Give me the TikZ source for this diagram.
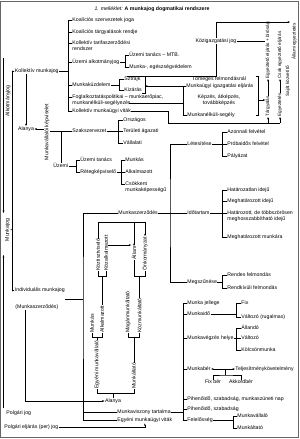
\documentclass[tikz,border=0pt]{standalone}
\usepackage{fontspec}
\setmainfont{Liberation Sans}
\usetikzlibrary{arrows.meta}
\newcommand{\twol}[2]{\begin{tabular}[t]{@{}l@{}}#1\\#2\end{tabular}}

\begin{document}
\begin{tikzpicture}[
  x=0.5mm, y=-0.5mm,
  >={Stealth[length=3.5pt,width=2.6pt]},
  font=\fontsize{7.4}{8.4}\selectfont,
  lb/.style={anchor=mid west, inner sep=0.5pt, align=left},
  vt/.style={rotate=90, anchor=west, inner sep=0.5pt},
  vs/.style={vt, font=\fontsize{6.6}{7}\selectfont},
  ln/.style={line width=0.6pt},
  arr/.style={->, line width=0.6pt},
]
  \useasboundingbox (0,0) rectangle (300,439);
  \draw[line width=0.8pt, black!60] (0.5,1) rectangle (298.5,437.5);

  % title
  \node (ttl) at (152,9) {\textit{1. melléklet:} \textbf{A munkajog dogmatikai rendszere}};

  % left column
  \node[lb] (kmj) at (14.5,71) {Kollektív munkajog};
  \node[vt, anchor=center] (akj) at (8,101) {Alkotmányjog};
  \node[vt, anchor=center] (mj) at (7.5,230) {Munkajog};
  \node[lb] (im) at (14.5,290) {Individuális munkajog};
  \node[lb] (msz0) at (15,307) {(Munkaszerződés)};
  \node[lb] (pj) at (6,413) {Polgári jog};
  \node[lb] (pe) at (4,427) {Polgári eljárás (per) jog};

  \coordinate (sp) at (12,229);
  \draw[arr] (sp) |- (kmj.west);
  \draw[arr] (sp) |- (im.west);
  \draw[ln] (mj.south) -- (sp);
  \coordinate (ak0) at (3.5,58);
  \coordinate (ak1) at (3.5,213);
  \draw[arr] (ak0) -- (ak1);
  \coordinate (pj0) at (3.5,408);
  \coordinate (pj1) at (3.5,255);
  \draw[arr] (pj0) -- (pj1);

  % kollektiv munkajog
  \coordinate (b1) at (68,0);
  \node[lb] (ks1) at (72,20) {Koalíciós szervezetek joga};
  \node[lb] (ks2) at (72,32) {Koalíciós tárgyalások rendje};
  \node[lb] (ks3) at (72,43) {\twol{Kollektív tarifaszerződési}{rendszer}};
  \node[lb] (ks4) at (72,62) {Üzemi alkotmányjog};
  \node[lb] (ks5) at (72,85) {Munkaküzdelem};
  \node[lb] (ks6) at (72,97) {\twol{Foglalkoztatáspolitikai – munkaerőpiac,}{munkanélküli-segélyezés}};
  \node[lb] (ks7) at (72,111) {Kollektív munkaügyi viták};
  \draw[ln] (ks1.mid west) -| (b1 |- ks7.mid west) -- (ks7.mid west);
  \foreach \n in {ks2,ks3,ks4,ks5,ks6}
    \draw[ln] (\n.mid west) -- (\n.mid west -| b1);
  \draw[ln] (kmj.east) -- (kmj.east -| b1);

  \coordinate (b2) at (125,0);
  \node[lb] (ua1) at (129,55) {Üzemi tanács – MTB.};
  \node[lb] (ua2) at (129,67) {Munka-, egészségvédelem};
  \draw[ln] (ua1.mid west) -| (b2 |- ua2.mid west) -- (ua2.mid west);
  \draw[ln] (ks4.mid east) -- (ks4.mid east -| b2);

  \coordinate (b3) at (119,0);
  \node[lb] (mk1) at (124,79) {Sztrájk};
  \node[lb] (mk2) at (124,90) {Kizárás};
  \draw[ln] (mk1.mid west) -| (b3 |- mk2.mid west) -- (mk2.mid west);
  \draw[ln] (ks5.mid east) -- (ks5.mid east -| b3);
  \coordinate (b3r) at (145,0);
  \coordinate (bk1) at (142,76);
  \coordinate (bk2) at (142,93);
  \draw[ln] (bk1) -| (b3r |- bk2) -- (bk2);

  % kozigazgatasi jog
  \node[inner sep=0.5pt] (kj) at (216,41) {Közigazgatási jog};
  \coordinate (c1) at (127,76);
  \draw[ln] (c1) -| (kj.south);
  \coordinate (c2) at (290,22);
  \draw[arr] (kj.north) |- (c2);

  \node[inner sep=0.5pt] (tf) at (219,79) {Tömeges felmondásnál};
  \node[lb] (mi) at (186,86) {Munkaügyi igazgatási eljárás};
  \node[inner sep=0.5pt, align=center] (kk) at (219,100) {Képzés, átképzés,\\továbbképzés};
  \node[lb] (ms) at (187,115) {Munkanélküli-segély};
  \coordinate (b4) at (183,0);
  \draw[ln] (mi.mid west) -| (b4 |- ms.mid west) -- (ms.mid west);
  \draw[arr] (mi.mid west -| b4) -- (mi.mid west -| b3r);
  \coordinate (c3) at (129,103);
  \draw[ln] (c3) -- (c3 -| b4);
  \coordinate (b5) at (258.5,0);
  \coordinate (rb1) at (255.5,76);
  \coordinate (rb2) at (255.5,115);
  \draw[ln] (rb1) -| (b5 |- rb2) -- (rb2);

  % right columns
  \node[vs] (ta) at (268,117) {Tárgyalás};
  \node[vs] (ee) at (268,79) {Egyeztető eljárás + bíróság};
  \draw[arr] (ta.east) -- (ee.west);
  \node[vs] (tb) at (280,117) {Egyeztetés};
  \node[vs] (cb) at (280,79) {Csak egyeztető eljárás};
  \draw[arr] (tb.east) -- (cb.west);
  \node[vs] (sk) at (288,97) {Saját közvetítő};
  \node[vs] (ae) at (294,60) {Állami egyeztetés};
  \draw[ln] (kj.east) -- (kj.east -| ee.north);
  \draw[arr] (b5 |- kk) -- (kk -| ta.north);
  \coordinate (c4) at (168,123);
  \draw[ln] (ks7.mid east) -| (c4) -- (c4 -| tb);
  \draw[arr] (ta.west |- c4) -- (ta.west);
  \draw[arr] (tb.west |- c4) -- (tb.west);

  % munkavallaloi kepviselet
  \node[inner sep=0.5pt] (al1) at (26,129) {Alanya};
  \node[vt, anchor=center] (mkv) at (47,132) {Munkavállalói képviselet};
  \draw[arr] (al1.north |- kmj.south) -- (al1.north);
  \draw[arr] (mkv.north |- al1) -- (al1.east);
  \node[lb] (szk) at (72,131) {Szakszervezet};
  \node[lb] (uz) at (53,166) {Üzemi};
  \draw[ln] (mkv.south |- szk.mid west) -- (szk.mid west);
  \draw[ln] (uz.north |- szk.mid west) -- (uz.north);

  \coordinate (b6) at (118,0);
  \node[lb] (sz1) at (123,120) {Országos};
  \node[lb] (sz2) at (123,131) {Területi ágazati};
  \node[lb] (sz3) at (123,143) {Vállalati};
  \draw[ln] (sz1.mid west) -| (b6 |- sz3.mid west) -- (sz3.mid west);
  \draw[ln] (szk.mid east) -- (sz2.mid west);

  \coordinate (b7) at (76,0);
  \node[lb] (ut) at (80,160) {Üzemi tanács};
  \node[lb] (rk) at (80,172) {Rétegképviselő};
  \draw[ln] (ut.mid west) -| (b7 |- rk.mid west) -- (rk.mid west);
  \draw[ln] (uz.mid east) -- (uz.mid east -| b7);
  \coordinate (b8) at (121,0);
  \node[lb] (rk1) at (125,160) {Munkás};
  \node[lb] (rk2) at (125,172) {Alkalmazott};
  \node[lb] (rk3) at (125,184) {\twol{Csökkent}{munkaképességű}};
  \draw[ln] (rk1.mid west) -| (b8 |- rk3.mid west) -- (rk3.mid west);
  \draw[ln] (rk.mid east) -- (rk2.mid west);

  % individualis munkajog
  \node[lb] (msz) at (118,213) {Munkaszerződés};
  \node[lb] (mvt) at (117,412) {Munkaviszony tartalma};
  \node[lb] (emv) at (117,420) {Egyéni munkaügyi viták};
  \coordinate (sp2) at (83,299);
  \draw[ln] (msz.mid west) -| (sp2) |- (emv.mid west);
  \draw[ln] (mvt.mid west) -- (mvt.mid west -| sp2);
  \draw[ln] (im.east |- sp2) -- (sp2);
  \node[inner sep=0.5pt] (al2) at (113,401) {Alanya};
  \draw[arr] ([xshift=5mm]msz0.south west) |- (al2.west);
  \draw[arr] (pe.mid east) -| (emv.south);

  \node[lb] (let) at (187,144) {Létesítése};
  \node[lb] (ido) at (187,213) {Időtartam};
  \node[lb] (meg) at (187,282) {Megszűnése};
  \coordinate (sp3) at (170,213);
  \draw[ln] (let.mid west) -| (sp3) |- (meg.mid west);
  \draw[ln] (msz.mid east) -- (ido.mid west);

  \coordinate (b9) at (222,0);
  \node[lb] (le1) at (227,132) {Azonnali felvétel};
  \node[lb] (le2) at (227,144) {Próbaidős felvétel};
  \node[lb] (le3) at (227,156) {Pályázat};
  \draw[ln] (le1.mid west) -| (b9 |- le3.mid west) -- (le3.mid west);
  \draw[ln] (let.mid east) -- (le2.mid west);

  \node[lb] (id1) at (227,190) {Határozatlan idejű};
  \node[lb] (id2) at (227,201) {Meghatározott idejű};
  \node[lb] (id3) at (227,213) {\twol{Határozott, de többszörösen}{meghosszabbítható idejű}};
  \node[lb] (id4) at (227,237) {Meghatározott munkára};
  \draw[ln] (id1.mid west) -| (b9 |- id4.mid west) -- (id4.mid west);
  \draw[ln] (id2.mid west) -- (id2.mid west -| b9);
  \draw[ln] (ido.mid east) -- (id3.mid west);

  \node[lb] (mg1) at (227,275) {Rendes felmondás};
  \node[lb] (mg2) at (227,288) {Rendkívüli felmondás};
  \draw[ln] (mg1.mid west) -| (b9 |- mg2.mid west) -- (mg2.mid west);
  \draw[ln] (meg.mid east) -- (meg.mid east -| b9);

  % munkaviszony tartalma
  \coordinate (b12) at (183,0);
  \node[lb] (t1) at (187,303) {Munka jellege};
  \node[lb] (t2) at (187,314) {Munkaidő};
  \node[lb] (t3) at (187,338) {Munkavégzés helye};
  \node[lb] (t4) at (187,369) {Munkabér};
  \node[lb] (t5) at (187,399) {Pihenőidő, szabadság, munkaszüneti nap};
  \node[lb] (t6) at (187,409) {Pihenőidő, szabadság};
  \node[lb] (t7) at (187,420) {Felelősség};
  \draw[ln] (t1.mid west) -| (b12 |- t7.mid west) -- (t7.mid west);
  \foreach \n in {t2,t3,t4,t5,t6}
    \draw[ln] (\n.mid west) -- (\n.mid west -| b12);
  \draw[ln] (mvt.mid east) -- (mvt.mid east -| b12);

  \coordinate (b13) at (236,0);
  \node[lb] (mi1) at (241,303) {Fix};
  \node[lb] (mi2) at (241,317) {Változó (rugalmas)};
  \draw[ln] (mi1.mid west) -| (b13 |- mi2.mid west) -- (mi2.mid west);
  \draw[ln] (t2.mid east) -- (t2.mid east -| b13);
  \node[lb] (mh1) at (241,328) {Állandó};
  \node[lb] (mh2) at (241,338) {Változó};
  \node[lb] (mh3) at (241,350) {Kölcsönmunka};
  \draw[ln] (mh1.mid west) -| (b13 |- mh3.mid west) -- (mh3.mid west);
  \draw[ln] (t3.mid east) -- (mh2.mid west);

  \node[lb] (tk) at (235,369) {Teljesítménykövetelmény};
  \draw[<->, ln] (t4.mid east) -- (tk.mid west);
  \node[inner sep=0.5pt] (fb) at (213,382) {Fix bér};
  \node[inner sep=0.5pt] (ab) at (241,382) {Akkordbér};
  \coordinate (br) at (225,375);
  \draw[ln] (fb.north) |- (br) -| (ab.north);
  \draw[ln] (br) -- (br |- t4.mid east);

  \coordinate (b15) at (233,0);
  \node[lb] (fe1) at (237,416) {Munkavállaló};
  \node[lb] (fe2) at (237,428) {Munkáltató};
  \draw[ln] (fe1.mid west) -| (b15 |- fe2.mid west) -- (fe2.mid west);
  \draw[ln] (t7.mid east) -- (t7.mid east -| b15);

  % alanyok
  \node[vt] (kt) at (98,271) {Köztisztviselő};
  \node[vt] (ka) at (106,271) {Közalkalmazott};
  \node[vt] (all) at (134,260) {Állam};
  \node[vt] (onk) at (145,271) {Önkormányzat};
  \coordinate (tl) at (0,222);
  \draw[ln] (kt.east) |- (onk.east |- tl);
  \draw[arr] (all.east |- tl) -- (all.east);
  \draw[arr] (onk.east |- tl) -- (onk.east);
  \coordinate (ar) at (0,245);
  \draw[arr] (ka.south |- ar) -- (all.north |- ar);
  \coordinate (bt) at (0,276);
  \draw[ln] (kt.west) |- (ka.west |- bt) -- (ka.west);
  \draw[ln] (all.west) |- (onk.west |- bt) -- (onk.west);

  \node[vt] (mu2) at (92,333) {Munkás};
  \node[vt] (ak2) at (102,333) {Alkalmazott};
  \node[vt] (mag) at (128,333) {Magánmunkáltató};
  \node[vt] (kzm) at (139.5,333) {Közmunkáltató};
  \draw[ln] (ak2.east) -- (ak2.east |- bt);
  \draw[ln] (kzm.east) -- (kzm.east |- bt);
  \coordinate (bm) at (0,337);
  \draw[ln] (mu2.west) |- (ak2.west |- bm) -- (ak2.west);
  \draw[ln] (mag.west) |- (kzm.west |- bm) -- (kzm.west);
  \node[vt] (ev) at (97,389) {Egyéni munkavállaló};
  \node[vt] (mtt) at (133.75,389) {Munkáltató};
  \draw[ln] (ev.east) -- (ev.east |- bm);
  \draw[ln] (mtt.east) -- (mtt.east |- bm);
  \coordinate (bb) at (0,393);
  \draw[ln] (ev.west) |- (mtt.west |- bb) -- (mtt.west);
  \draw[ln] (al2.north |- bb) -- (al2.north);
\end{tikzpicture}
\end{document}
